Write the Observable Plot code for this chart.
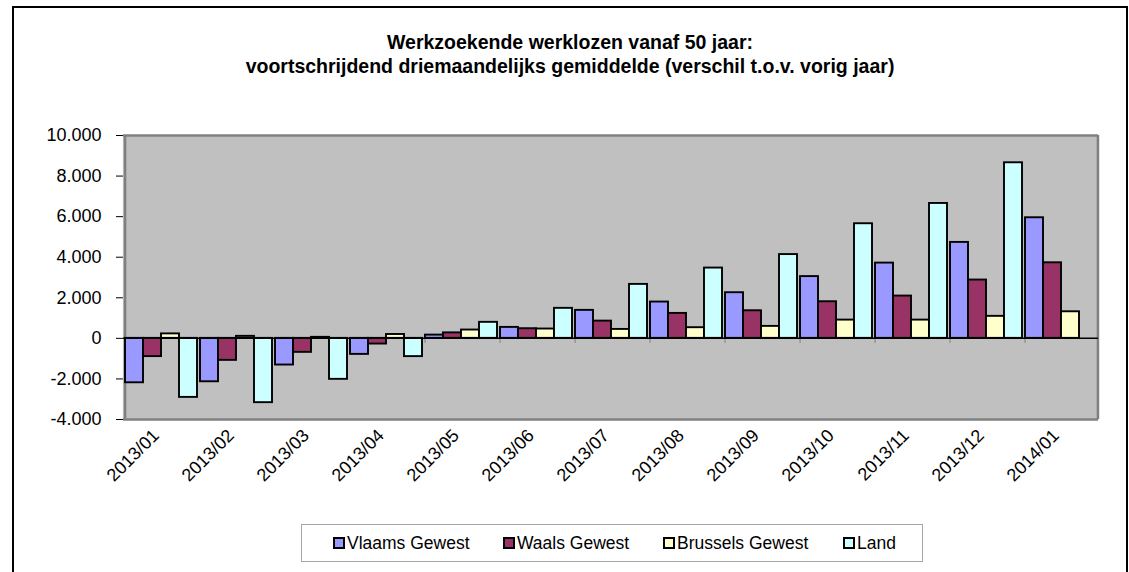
<!DOCTYPE html>
<html>
<head>
<meta charset="utf-8">
<script src="https://cdn.jsdelivr.net/npm/d3@7"></script>
<script src="https://cdn.jsdelivr.net/npm/@observablehq/plot@0.6"></script>
<style>
  html, body { margin: 0; padding: 0; background: #fff; }
  #wrap { position: relative; width: 1129px; height: 572px; overflow: hidden; font-family: "Liberation Sans", Arial, sans-serif; }
  #border { position: absolute; left: 12px; top: 6px; width: 1112px; height: 600px; border: 2.5px solid #000; box-sizing: content-box; }
  #title { position: absolute; left: 12px; width: 1116px; top: 30px; text-align: center; font-weight: bold; font-size: 19.5px; line-height: 24px; color: #000; }
  #chart { position: absolute; left: 0; top: 0; }
  #legend { position: absolute; left: 301px; top: 524px; width: 620px; height: 36px; border: 1.5px solid #a6a6a6; background: #fff; display: flex; align-items: center; font-size: 17.5px; }
  .item { position: absolute; display: flex; align-items: center; }
  .sw { width: 8px; height: 8px; border: 2px solid #000; margin-right: 2px; }
</style>
</head>
<body>
<div id="wrap">
  <div id="border"></div>
  <div id="title">Werkzoekende werklozen vanaf 50 jaar:<br>voortschrijdend driemaandelijks gemiddelde (verschil t.o.v. vorig jaar)</div>
  <div id="chart"></div>
  <div id="legend"></div>
</div>
<script>
const months = ["2013/01","2013/02","2013/03","2013/04","2013/05","2013/06","2013/07","2013/08","2013/09","2013/10","2013/11","2013/12","2014/01"];
const series = ["Vlaams Gewest","Waals Gewest","Brussels Gewest","Land"];
const vlaams   = [-2190,-2140,-1315,-790,160,540,1380,1790,2250,3045,3710,4730,5945];
const waals    = [-900,-1085,-690,-280,270,475,850,1230,1360,1805,2085,2875,3725];
const brussels = [220,100,50,190,410,460,440,525,590,900,900,1085,1310];
const land     = [-2910,-3170,-2020,-900,790,1480,2660,3465,4130,5650,6650,8655,null];
const yTicks = [-4000,-2000,0,2000,4000,6000,8000,10000];
const colors = ["#9999FF","#993366","#FFFFCC","#CCFFFF"];

const values = [vlaams, waals, brussels, land];
const data = [];
months.forEach((m, i) => series.forEach((s, k) => {
  if (values[k][i] != null) data.push({month: m, series: s, value: values[k][i]});
}));

const fmt = d => d3.format(",")(d).replace(/,/g, ".").replace("\u2212", "-");

const W = 1129, H = 572, mL = 120, mR = 28, mT = 135, mB = 153;
const subBand = (W - mL - mR) / months.length / series.length;

const chart = Plot.plot({
  width: W, height: H,
  marginLeft: mL, marginRight: mR, marginTop: mT, marginBottom: mB,
  style: {fontFamily: "'Liberation Sans', Arial, sans-serif", fontSize: "18px", color: "#000", background: "transparent", overflow: "visible"},
  fx: {domain: months, padding: 0, label: null},
  x: {domain: series, padding: 0, axis: null},
  y: {domain: [-4000, 10000], ticks: yTicks, tickFormat: fmt, label: null, tickSize: 7, tickPadding: 15},
  color: {domain: series, range: colors},
  marks: [
    Plot.frame({fill: "#C0C0C0", stroke: null, insetLeft: -0.6, insetRight: -0.6}),
    Plot.ruleY([10000, -4000], {stroke: "#808080", strokeWidth: 2.5}),
    Plot.ruleX([months[0]], {fx: d => d, x: () => series[0], dx: -subBand / 2, stroke: "#808080", strokeWidth: 2.5}),
    Plot.ruleX([months[months.length - 1]], {fx: d => d, x: () => series[series.length - 1], dx: subBand / 2, stroke: "#808080", strokeWidth: 2.5}),
    Plot.ruleX(months, {fx: d => d, x: () => series[0], dx: -subBand / 2, y1: 0, y2: -250, stroke: "#808080", strokeWidth: 1}),
    Plot.barY(data, {fx: "month", x: "series", y: "value", fill: "series", stroke: "#000", strokeWidth: 1.9}),
    Plot.ruleY([0], {stroke: "#000", strokeWidth: 1.5}),
    Plot.axisFx({anchor: "bottom", label: null, tickRotate: -45, tickSize: 0, tickPadding: 13, dx: -5, fontSize: 18})
  ]
});
document.getElementById("chart").appendChild(chart);

// legend
const legend = document.getElementById("legend");
const legendX = [31, 201, 361, 541];
series.forEach((s, k) => {
  const it = document.createElement("div");
  it.className = "item";
  it.style.left = legendX[k] + "px";
  const sw = document.createElement("div");
  sw.className = "sw";
  sw.style.background = colors[k];
  const t = document.createElement("span");
  t.textContent = s;
  it.appendChild(sw); it.appendChild(t);
  legend.appendChild(it);
});
</script>
</body>
</html>
